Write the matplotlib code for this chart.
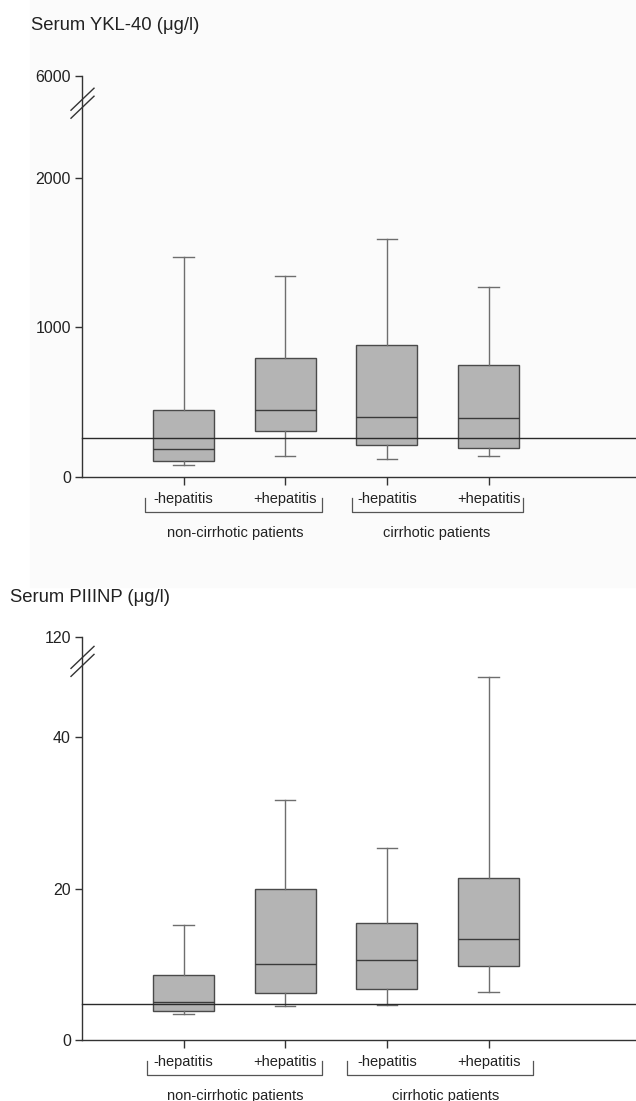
import numpy as np
import matplotlib
matplotlib.use("Agg")
import matplotlib.pyplot as plt
from matplotlib.lines import Line2D
from matplotlib.patches import Rectangle

plt.rcParams["font.family"] = ["Liberation Sans", "DejaVu Sans"]

# -------------------------
#  data
# -------------------------
groups = ["-hepatitis", "+hepatitis", "-hepatitis", "+hepatitis"]
patient_groups = ["non-cirrhotic patients", "cirrhotic patients"]

# YKL-40 (ug/l)
ykl_whislo = [80, 141, 121, 141]
ykl_q1     = [107, 309, 215, 195]
ykl_med    = [188, 450, 403, 396]
ykl_q3     = [450, 799, 886, 752]
ykl_whishi = [1472, 1345, 1592, 1271]
ykl_ref    = 260
ykl_ticks  = [0, 1000, 2000, 6000]

# PIIINP (ug/l)
p3_whislo = [3.4, 4.5, 4.6, 6.3]
p3_q1     = [3.8, 6.2, 6.7, 9.8]
p3_med    = [5.0, 10.0, 10.5, 13.3]
p3_q3     = [8.6, 20.0, 15.4, 21.4]
p3_whishi = [15.2, 31.7, 25.3, 47.9]
p3_ref    = 4.8
p3_ticks  = [0, 20, 40, 120]

W, H = 636, 1101
fig = plt.figure(figsize=(W / 100, H / 100), dpi=100)
fig.add_artist(Rectangle((30 / W, 1 - 587 / H), 1, 587 / H,
                         transform=fig.transFigure, color="#fbfbfb", zorder=-10))

BOX_FC = "#b4b4b4"
EDGE = "#4a4a4a"
WHISK = "#6e6e6e"
AX_C = "#333333"


def broken_scale(b, k):
    def fwd(y):
        y = np.asarray(y, dtype=float)
        return np.where(y <= b, y, b + (y - b) * k)

    def inv(y):
        y = np.asarray(y, dtype=float)
        return np.where(y <= b, y, b + (y - b) / k)
    return fwd, inv


def panel(rect, title, title_xy, whislo, q1, med, q3, whishi, ref, ticks,
          ymax, b, k, brackets, label_x):
    ax = fig.add_axes(rect)
    ax.patch.set_alpha(0)
    ax.set_yscale("function", functions=broken_scale(b, k))
    ax.set_ylim(0, ymax)
    ax.set_xlim(0, 5.45)

    stats = []
    for i in range(len(groups)):
        stats.append(dict(whislo=whislo[i], q1=q1[i], med=med[i],
                          q3=q3[i], whishi=whishi[i], fliers=[]))
    ax.bxp(stats, positions=[1, 2, 3, 4], widths=0.6, capwidths=0.2,
           patch_artist=True, showfliers=False,
           boxprops=dict(facecolor=BOX_FC, edgecolor=EDGE, linewidth=1.0),
           medianprops=dict(color="#3a3a3a", linewidth=1.0),
           whiskerprops=dict(color=WHISK, linewidth=1.0),
           capprops=dict(color=WHISK, linewidth=1.0))

    ax.axhline(ref, color="#2a2a2a", linewidth=1.0, zorder=5, clip_on=False)

    for s in ["top", "right"]:
        ax.spines[s].set_visible(False)
    for s in ["left", "bottom"]:
        ax.spines[s].set_color(AX_C)
        ax.spines[s].set_linewidth(1.0)

    ax.set_yticks(ticks)
    ax.set_yticklabels([str(t) for t in ticks], fontsize=11.5, color="#222222")
    ax.tick_params(axis="y", direction="out", length=5, width=1.0,
                   color=AX_C, pad=3)
    ax.set_xticks([1, 2, 3, 4])
    ax.set_xticklabels(groups, fontsize=10.5, color="#222222")
    ax.tick_params(axis="x", direction="out", length=6, width=1.0,
                   color=AX_C, pad=5)

    # brackets + group labels below the axis (pixel offsets)
    h_px = rect[3] * H
    tr = ax.get_xaxis_transform()
    y_top = -21 / h_px
    y_bot = -35 / h_px
    for (x0, x1) in brackets:
        ax.plot([x0, x0, x1, x1], [y_top, y_bot, y_bot, y_top],
                transform=tr, color="#555555", linewidth=0.9, clip_on=False)
    for lx, lab in zip(label_x, patient_groups):
        ax.text(lx, -56 / h_px, lab, transform=tr, ha="center", va="center",
                fontsize=10.5, color="#222222")

    fig.text(title_xy[0] / W, 1 - title_xy[1] / H, title, fontsize=13.3,
             ha="left", va="center", color="#222222")

    # axis break slashes
    px = ax.transData.transform((0, b))
    for dy in (-4, 4):
        x0, y0 = px[0] - 11, px[1] + dy - 11
        x1, y1 = px[0] + 12, px[1] + dy + 11
        p0 = fig.transFigure.inverted().transform((x0, y0))
        p1 = fig.transFigure.inverted().transform((x1, y1))
        fig.add_artist(Line2D([p0[0], p1[0]], [p0[1], p1[1]],
                              transform=fig.transFigure, color=AX_C,
                              linewidth=1.0))
    return ax


# top panel: 0 at y=477 px, 6000 at y=76 px
panel([82 / W, 1 - 477 / H, 1 - 82 / W, 401 / H],
      "Serum YKL-40 (\u03bcg/l)", (31, 25),
      ykl_whislo, ykl_q1, ykl_med, ykl_q3, ykl_whishi, ykl_ref, ykl_ticks,
      6000, 2500, 0.052,
      [(0.62, 2.36), (2.66, 4.34)], [1.51, 3.49])

# bottom panel: 0 at y=1040 px, 120 at y=637 px
panel([82 / W, 1 - 1040 / H, 1 - 82 / W, 403 / H],
      "Serum PIIINP (\u03bcg/l)", (10, 598),
      p3_whislo, p3_q1, p3_med, p3_q3, p3_whishi, p3_ref, p3_ticks,
      120, 50, 0.046,
      [(0.64, 2.36), (2.61, 4.44)], [1.51, 3.58])

fig.savefig("out.png", dpi=100)
